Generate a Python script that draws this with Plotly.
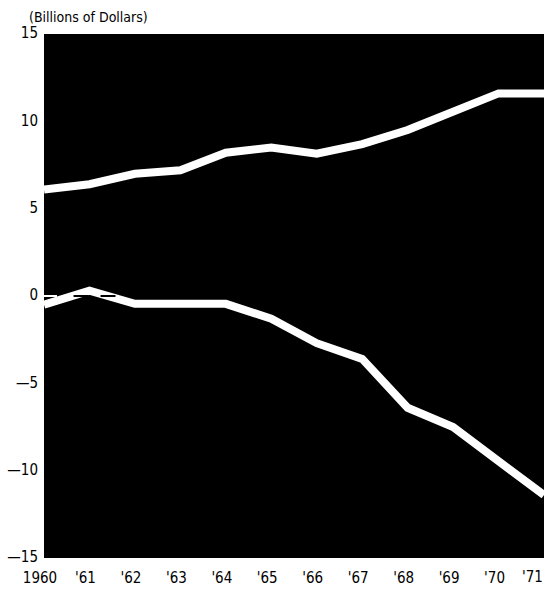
import plotly.graph_objects as go

years = [1960, 1961, 1962, 1963, 1964, 1965, 1966, 1967, 1968, 1969, 1970, 1971]
upper = [6.1, 6.4, 7.0, 7.2, 8.2, 8.5, 8.15, 8.7, 9.5, 10.55, 11.6, 11.6]
lower = [-0.5, 0.3, -0.45, -0.45, -0.45, -1.3, -2.7, -3.6, -6.4, -7.5, -9.5, -11.4]

x_ticks = years
x_ticktext = ["1960", "'61", "'62", "'63", "'64", "'65", "'66", "'67", "'68", "'69", "'70", "'71"]
y_ticks = [-15, -10, -5, 0, 5, 10, 15]
y_ticktext = ["\u201415", "\u201410", "\u20145", "0", "5", "10", "15"]

zero_white_x = [1960.0, 1960.65]
zero_black_x = [1960.65, 1961.7]
zero_y = [0, 0]

FONT = "DejaVu Sans Condensed, Liberation Sans Narrow, sans-serif"

fig = go.Figure()
fig.add_trace(go.Scatter(x=years, y=upper, mode="lines",
                         line=dict(color="white", width=8), hoverinfo="skip"))
fig.add_trace(go.Scatter(x=years, y=lower, mode="lines",
                         line=dict(color="white", width=8), hoverinfo="skip"))
fig.add_trace(go.Scatter(x=zero_white_x, y=zero_y, mode="lines",
                         line=dict(color="white", width=2, dash="13px,13px"), hoverinfo="skip"))
fig.add_trace(go.Scatter(x=zero_black_x, y=zero_y, mode="lines",
                         line=dict(color="black", width=2, dash="15px,12px"), hoverinfo="skip"))

# last tick label is placed right-aligned at its tick so it stays inside the page
shown_ticktext = x_ticktext[:-1] + [""]

fig.update_layout(
    width=546, height=590,
    margin=dict(l=44, r=2, t=34, b=32, autoexpand=False),
    paper_bgcolor="white", plot_bgcolor="black",
    showlegend=False,
    font=dict(family=FONT, size=15, color="black"),
    xaxis=dict(range=[1960, 1971], tickvals=x_ticks, ticktext=shown_ticktext,
               showgrid=False, zeroline=False, showline=False,
               ticks="outside", ticklen=6, tickcolor="white",
               ticklabelshift=-4, ticklabeloverflow="allow", automargin=False,
               tickfont=dict(family=FONT, size=15)),
    yaxis=dict(range=[-15, 15], tickvals=y_ticks, ticktext=y_ticktext,
               showgrid=False, zeroline=False, showline=False,
               ticks="outside", ticklen=2, tickcolor="white",
               ticklabelshift=-1, ticklabeloverflow="allow", automargin=False,
               tickfont=dict(family=FONT, size=15)),
    annotations=[
        dict(text="(Billions of Dollars)", xref="paper", yref="paper",
             x=-0.034, y=1.032, xanchor="left", yanchor="middle",
             showarrow=False, font=dict(family=FONT, size=14)),
        dict(text=x_ticktext[-1], xref="x", yref="paper",
             x=years[-1], y=-0.036, xanchor="right", yanchor="middle",
             xshift=1, showarrow=False, font=dict(family=FONT, size=15)),
    ],
)

fig.write_html("out.html", config={"displayModeBar": False},
               post_script="document.body.style.margin='0';document.body.style.overflow='hidden';")
